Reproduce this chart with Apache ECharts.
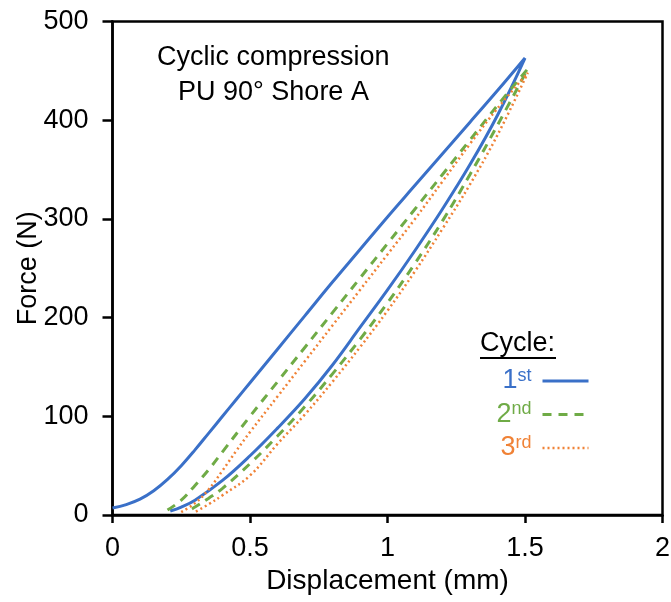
<!DOCTYPE html>
<html>
<head>
<meta charset="utf-8">
<script src="https://cdn.jsdelivr.net/npm/echarts@6/dist/echarts.min.js"></script>
<style>
  html, body { margin: 0; padding: 0; background: #fff; }
  #chart { width: 671px; height: 602px; }
</style>
</head>
<body>
<div id="chart"></div>
<script>
// loading (up) and unloading (down) branches, [displacement mm, force N]
const cycle1Up = [[0, 7], [0.05, 10.5], [0.1, 16], [0.15, 24.5], [0.2, 36], [0.25, 50], [0.3, 66], [0.35, 83], [0.4, 100], [0.45, 117], [0.5, 134], [0.6, 168], [0.7, 202], [0.8, 236], [0.9, 269], [1.0, 302], [1.1, 334], [1.2, 366], [1.3, 398], [1.4, 430], [1.5, 463]];
const cycle1Down = [[1.5, 463], [1.4, 405], [1.3, 355], [1.2, 310], [1.1, 268], [1.0, 228], [0.9, 190], [0.8, 152], [0.7, 118], [0.6, 88], [0.5, 60], [0.4, 35], [0.3, 15], [0.25, 8], [0.21, 4]];
const cycle2Up = [[0.2, 5], [0.25, 15], [0.3, 30], [0.35, 46], [0.4, 64], [0.5, 100], [0.6, 135], [0.7, 170], [0.8, 205], [0.9, 240], [1.0, 275], [1.1, 310], [1.2, 345], [1.3, 380], [1.4, 415], [1.51, 452]];
const cycle2Down = [[1.51, 452], [1.4, 395], [1.3, 345], [1.2, 298], [1.1, 255], [1.0, 215], [0.9, 178], [0.8, 143], [0.7, 110], [0.6, 80], [0.5, 52], [0.4, 27], [0.35, 17], [0.3, 8], [0.27, 3]];
const cycle3Up = [[0.25, 3], [0.3, 12], [0.35, 26], [0.4, 45], [0.45, 65], [0.5, 84], [0.6, 120], [0.7, 156], [0.8, 192], [0.9, 228], [1.0, 264], [1.1, 300], [1.2, 338], [1.3, 376], [1.4, 412], [1.51, 448]];
const cycle3Down = [[1.51, 448], [1.4, 385], [1.3, 335], [1.2, 290], [1.1, 247], [1.0, 207], [0.9, 170], [0.8, 135], [0.7, 102], [0.6, 72], [0.5, 40], [0.4, 20], [0.35, 11], [0.3, 3]];

const cycleNames = ["1st", "2nd", "3rd"];
const cycleColors = ["#3a70c8", "#6fab46", "#f08236"];
const cycleDash = ["solid", [9, 7], [2, 3]];
const cycleWidth = [3, 3, 2.5];

const xTicks = [0, 0.5, 1, 1.5, 2];
const yTicks = [0, 100, 200, 300, 400, 500];

const chart = echarts.init(document.getElementById("chart"));
const font = "Liberation Sans, Arial, sans-serif";

function superLabel(name) {
  // "1st" -> number + superscript suffix
  return "{n|" + name.charAt(0) + "}{s|" + name.slice(1) + "}";
}

const option = {
  animation: false,
  textStyle: { fontFamily: font },
  grid: {
    left: 112.5,
    right: 8.5,
    top: 21.5,
    bottom: 87,
    outerBoundsMode: "none",
    show: true,
    borderColor: "#000",
    borderWidth: 2.5,
  },
  xAxis: {
    type: "value",
    min: 0,
    max: 2,
    interval: 0.5,
    name: "Displacement (mm)",
    nameLocation: "middle",
    nameGap: 48,
    nameTextStyle: { fontSize: 28, color: "#000", fontFamily: font },
    axisLine: { show: true, lineStyle: { color: "#000", width: 2.5 } },
    axisTick: { show: true, length: 8, lineStyle: { color: "#000", width: 2.5 } },
    axisLabel: {
      fontSize: 27,
      color: "#000",
      margin: 20,
      formatter: (v) => (xTicks.includes(v) ? String(v) : ""),
    },
    splitLine: { show: false },
  },
  yAxis: {
    type: "value",
    min: 0,
    max: 500,
    interval: 100,
    name: "Force (N)",
    nameLocation: "middle",
    nameGap: 70,
    nameMoveOverlap: false,
    nameTextStyle: { fontSize: 27, color: "#000", fontFamily: font },
    axisLine: { show: true, lineStyle: { color: "#000", width: 2.5 } },
    axisTick: { show: true, length: 10, lineStyle: { color: "#000", width: 2.5 } },
    axisLabel: {
      fontSize: 27,
      color: "#000",
      margin: 24,
      formatter: (v) => (yTicks.includes(v) ? String(v) : ""),
    },
    splitLine: { show: false },
  },
  legend: {
    orient: "vertical",
    right: 76,
    top: 362,
    align: "right",
    itemWidth: 46,
    itemHeight: 14,
    itemGap: 6,
    selectedMode: false,
    itemStyle: { opacity: 0 },
    data: cycleNames.map((n, i) => ({
      name: n,
      lineStyle: { color: cycleColors[i], width: cycleWidth[i], type: cycleDash[i] },
      textStyle: {
        color: cycleColors[i],
        rich: {
          n: { fontSize: 27, color: cycleColors[i], fontFamily: font },
          s: { fontSize: 18, color: cycleColors[i], fontFamily: font, verticalAlign: "top", padding: [0, 6, 10, 0] },
        },
      },
    })),
    formatter: superLabel,
    textStyle: { fontFamily: font },
  },
  graphic: [
    {
      type: "text",
      left: 157,
      top: 44,
      style: {
        text: "Cyclic compression",
        font: "27px " + font,
        fill: "#000",
      },
    },
    {
      type: "text",
      left: 178,
      top: 79,
      style: {
        text: "PU 90° Shore A",
        font: "27px " + font,
        fill: "#000",
      },
    },
    {
      type: "text",
      left: 480,
      top: 330,
      style: { text: "Cycle:", font: "27px " + font, fill: "#000" },
    },
    {
      type: "line",
      shape: { x1: 480, y1: 358, x2: 556, y2: 358 },
      style: { stroke: "#000", lineWidth: 2 },
    },
  ],
  series: cycleNames.map((n, i) => ({
    name: n,
    type: "line",
    smooth: 0.4,
    symbol: "none",
    data: [cycle1Up.concat(cycle1Down.slice(1)), cycle2Up.concat(cycle2Down.slice(1)), cycle3Up.concat(cycle3Down.slice(1))][i],
    itemStyle: { color: cycleColors[i] },
    lineStyle: { color: cycleColors[i], width: cycleWidth[i], type: cycleDash[i] },
  })),
};

chart.setOption(option);
</script>
</body>
</html>
